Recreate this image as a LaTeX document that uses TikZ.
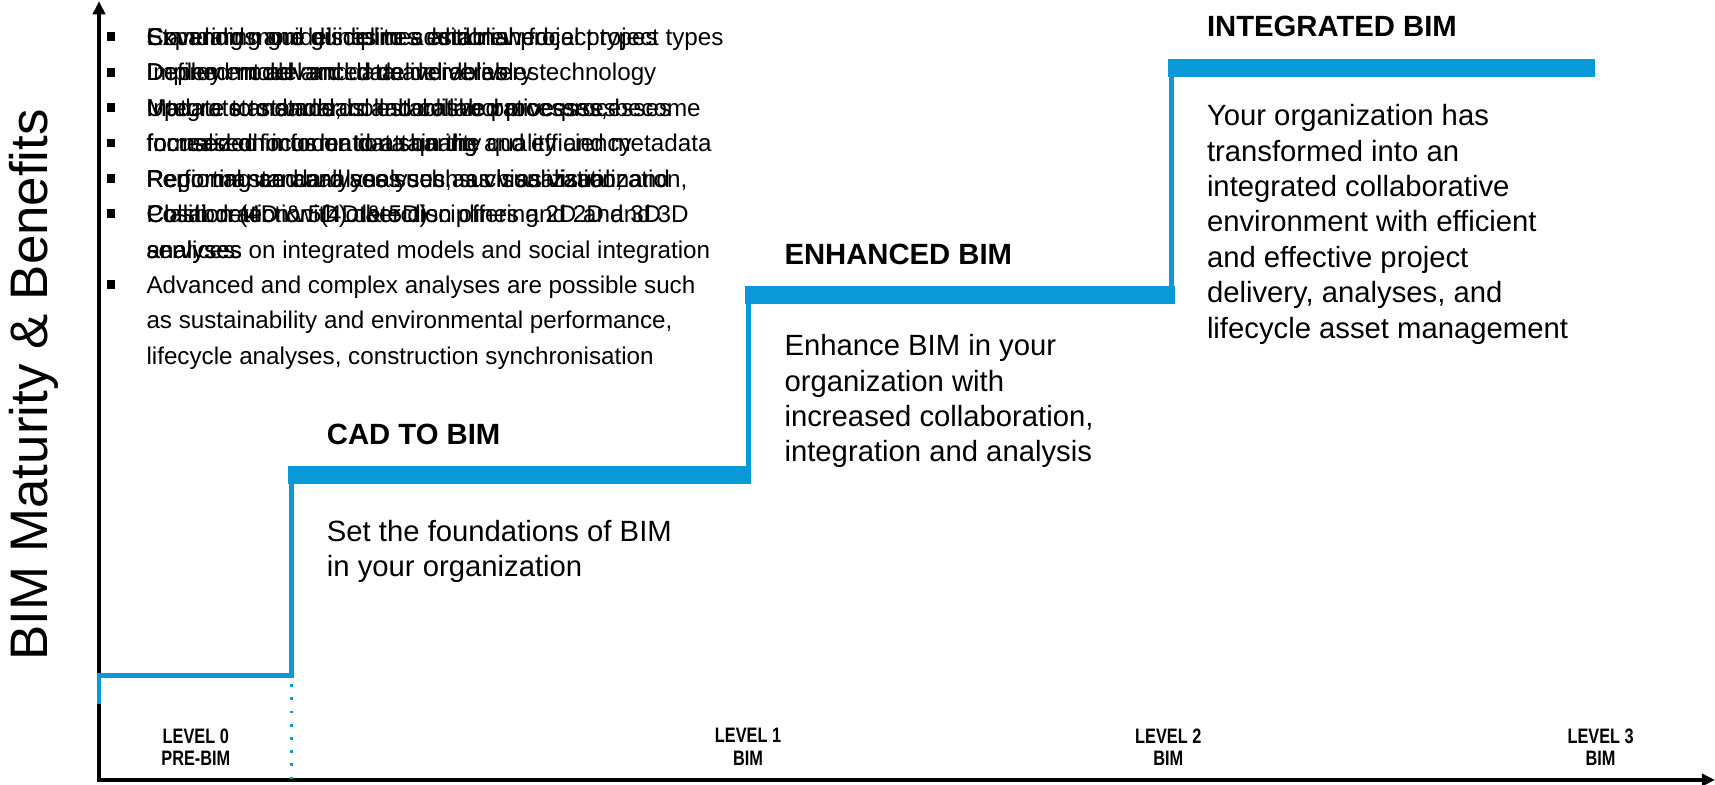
\documentclass[tikz,border=0pt]{standalone}
\usepackage{fontspec}
\setmainfont{Liberation Sans}
\newfontfamily\narrowsans[FakeStretch=0.78]{Liberation Sans}
\usetikzlibrary{arrows.meta}
\definecolor{bimblue}{RGB}{10,153,216}
\newcommand\bitem[1]{\strut\makebox[36pt][l]{\raisebox{4pt}{\rule{7.5pt}{8pt}}}#1}
\newcommand\bcont[1]{\strut\hspace*{36pt}#1}
\begin{document}
\begin{tikzpicture}[x=1pt,y=-1pt,
  listtext/.style={anchor=north west,inner sep=0pt,align=left,font=\fontsize{22}{32.2}\selectfont},
  desc/.style={anchor=north west,inner sep=0pt,align=left,font=\fontsize{26.6}{32.2}\selectfont},
  head/.style={anchor=base west,inner sep=0pt,font=\fontsize{26.6}{32}\selectfont\bfseries},
  lvl/.style={anchor=north,inner sep=0pt,align=center,font=\fontsize{19}{20.5}\selectfont\narrowsans\bfseries},
  thinstep/.style={draw=bimblue,line width=4.5pt},
  thickstep/.style={draw=bimblue,line width=16pt},
  axis/.style={draw=black,line width=3pt,-{Triangle[length=12pt,width=11pt]}}]
\useasboundingbox (0,0) rectangle (1559,713);
% axes
\draw[axis] (88,709) -- (1559,709);
\draw[axis] (90,711) -- (90,1);
\node[rotate=90,inner sep=0pt,font=\fontsize{48}{56}\selectfont] (ylab) at (31,350) {BIM Maturity \& Benefits};
% steps
\draw[thinstep] (90,640) -- (90,614) -- (265,614) -- (265,432);
\draw[bimblue,line width=2.5pt,dash pattern=on 2.5pt off 9.5pt] (265,622) -- (265,708);
\draw[thickstep] (262,432) -- (683,432);
\draw[thinstep] (680,432) -- (680,268);
\draw[thickstep] (677,268) -- (1068,268);
\draw[thinstep] (1065,268) -- (1065,62);
\draw[thickstep] (1062,62) -- (1450,62);
% headings
\node[head] (h1) at (297,404.5) {CAD TO BIM};
\node[head] (h2) at (713,240.6) {ENHANCED BIM};
\node[head] (h3) at (1097,33.6) {INTEGRATED BIM};
% descriptions
\node[desc] (d1) at (297,469.5) {\strut Set the foundations of BIM\\\strut in your organization};
\node[desc] (d2) at (713,300.5) {\strut Enhance BIM in your\\\strut organization with\\\strut increased collaboration,\\\strut integration and analysis};
\node[desc] (d3) at (1097,91.5) {\strut Your organization has\\\strut transformed into an\\\strut integrated collaborative\\\strut environment with efficient\\\strut and effective project\\\strut delivery, analyses, and\\\strut lifecycle asset management};
% level labels
\node[lvl] (l0) at (178,662) {LEVEL 0\\PRE-BIM};
\node[lvl] (l1) at (680,662) {LEVEL 1\\BIM};
\node[lvl] (l2) at (1062,662) {LEVEL 2\\BIM};
\node[lvl] (l3) at (1455,662) {LEVEL 3\\BIM};
% overlapping bullet lists
\node[listtext] (la) at (97,18.6) {\bitem{Standards and guidelines established}\\
\bitem{Defined model and data deliverables}\\
\bitem{Integrate to standard established processes}\\
\bitem{Increased focus on data quality}\\
\bitem{Reporting and analyses such as visualization}\\
\bitem{Clash detection (4D \& 5D)}\\
\bcont{analyses}};
\node[listtext] (lb) at (97,18.6) {\bitem{Expanding guidelines to additional project types}\\
\bitem{Implement advanced deliverables}\\
\bitem{Update to standards and collaborative processes}\\
\bitem{focused on information sharing and efficiency}\\
\bitem{Regional standard analyses, such as visualization,}\\
\bitem{Collaboration with other disciplines and 2D and 3D}\\
\bcont{services}};
\node[listtext] (lc) at (97,18.6) {\bitem{Covering more disciplines and new focal project types}\\
\bitem{Deploy model and data and delivery technology}\\
\bitem{Mature standards, collaborative processes, become}\\
\bitem{formalized in order to attain the quality and metadata}\\
\bitem{Performance analyses such as visualization, and}\\
\bitem{Position (4D \& 5D) detection offering 2D and 3D}\\
\bcont{analyses on integrated models and social integration}\\
\bitem{Advanced and complex analyses are possible such}\\
\bcont{as sustainability and environmental performance,}\\
\bcont{lifecycle analyses, construction synchronisation}};
\end{tikzpicture}
\end{document}
